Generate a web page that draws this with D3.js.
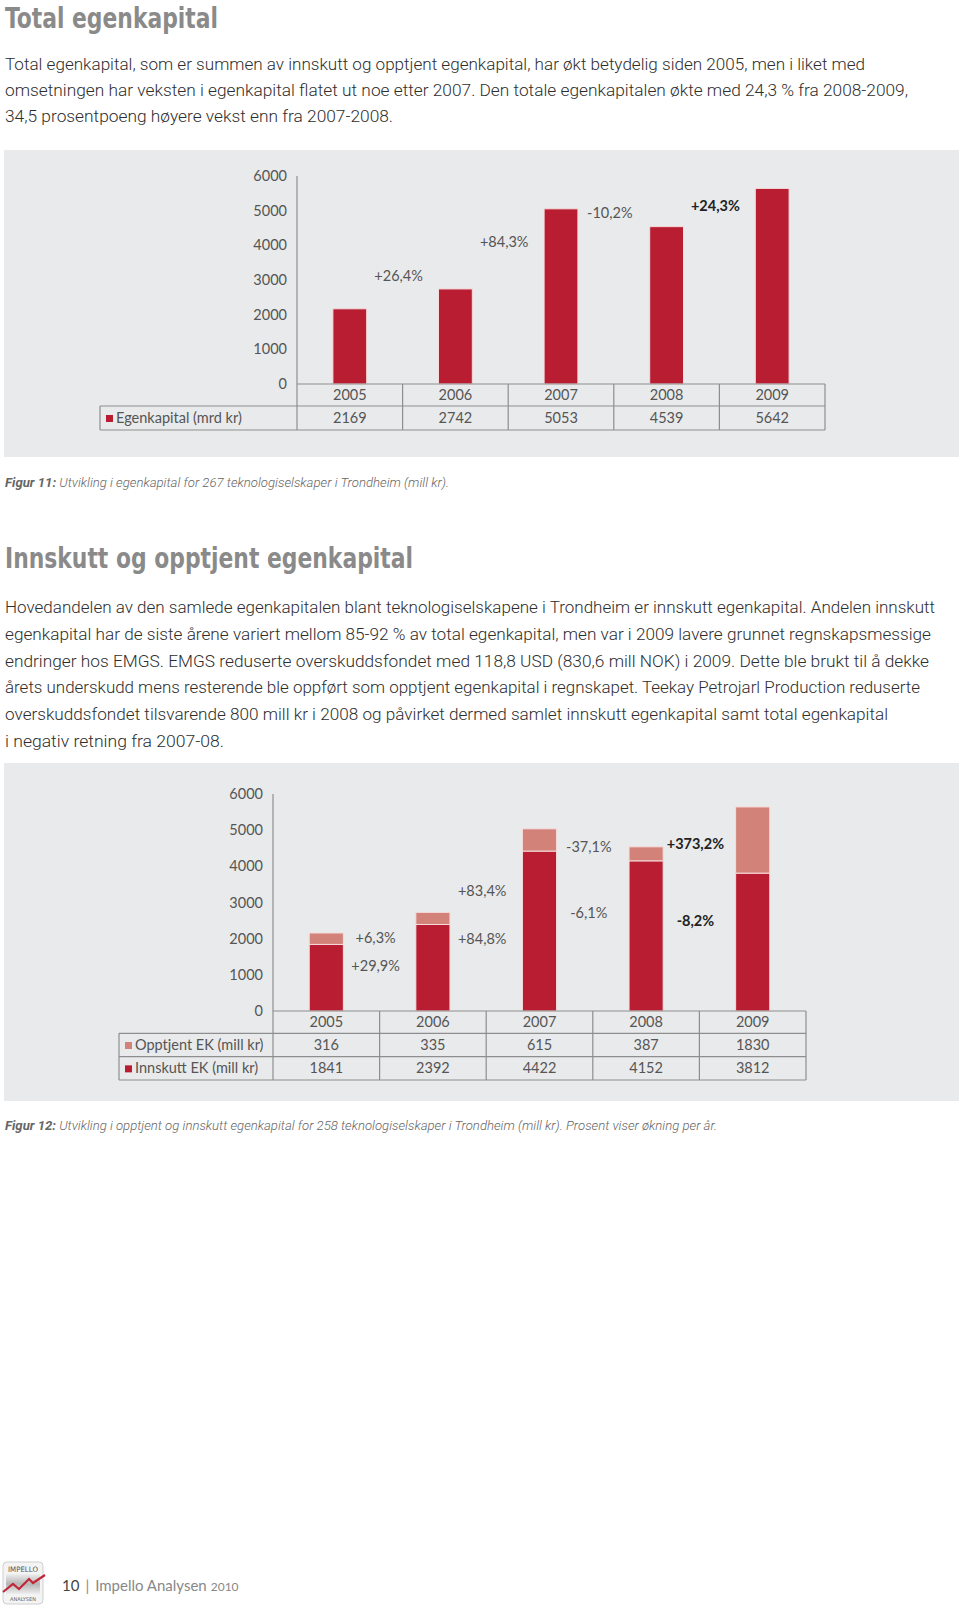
<!DOCTYPE html>
<html><head><meta charset="utf-8">
<script src="https://cdn.jsdelivr.net/npm/d3@7"></script>
<style>body{margin:0;background:#fff;} svg{display:block}</style>
</head><body><svg id="c" width="960" height="1610"></svg>
<script>
// ---------- DATA ----------
const years = ["2005","2006","2007","2008","2009"];
const yTicks = [0,1000,2000,3000,4000,5000,6000];

// Figure 11
const egenkapital = [2169,2742,5053,4539,5642];
const growthTotal = ["+26,4%","+84,3%","-10,2%","+24,3%"];
const growthTotalLevel = [3090,4070,4900,5110];   // label height in value units
const growthTotalBold = [false,false,false,true];

// Figure 12
const opptjent = [316,335,615,387,1830];
const innskutt = [1841,2392,4422,4152,3812];
const growthOpptjent = ["+6,3%","+83,4%","-37,1%","+373,2%"];
const growthOpptjentLevel = [1990,3290,4510,4590];
const growthOpptjentBold = [false,false,false,true];
const growthInnskutt = ["+29,9%","+84,8%","-6,1%","-8,2%"];
const growthInnskuttLevel = [1220,1960,2680,2460];
const growthInnskuttBold = [false,false,false,true];

// Texts
const title1 = "Total egenkapital";
const para1 = [
 "Total egenkapital, som er summen av innskutt og opptjent egenkapital, har økt betydelig siden 2005, men i liket med",
 "omsetningen har veksten i egenkapital flatet ut noe etter 2007. Den totale egenkapitalen økte med 24,3 % fra 2008-2009,",
 "34,5 prosentpoeng høyere vekst enn fra 2007-2008."
];
const caption1 = ["Figur 11:", " Utvikling i egenkapital for 267 teknologiselskaper i Trondheim (mill kr)."];
const title2 = "Innskutt og opptjent egenkapital";
const para2 = [
 "Hovedandelen av den samlede egenkapitalen blant teknologiselskapene i Trondheim er innskutt egenkapital. Andelen innskutt",
 "egenkapital har de siste årene variert mellom 85-92 % av total egenkapital, men var i 2009 lavere grunnet regnskapsmessige",
 "endringer hos EMGS. EMGS reduserte overskuddsfondet med 118,8 USD (830,6 mill NOK) i 2009. Dette ble brukt til å dekke",
 "årets underskudd mens resterende ble oppført som opptjent egenkapital i regnskapet. Teekay Petrojarl Production reduserte",
 "overskuddsfondet tilsvarende 800 mill kr i 2008 og påvirket dermed samlet innskutt egenkapital samt total egenkapital",
 "i negativ retning fra 2007-08."
];
const caption2 = ["Figur 12:", " Utvikling i opptjent og innskutt egenkapital for 258 teknologiselskaper i Trondheim (mill kr). Prosent viser økning per år."];
const footer = ["10", "|", "Impello Analysen", "2010"];

// ---------- STYLE ----------
const DARK = "#b81d32", LIGHT = "#d3827a", PANEL = "#e9eaeb", GRID = "#8e8e8e";
const LABEL_FONT = "Lato, 'Open Sans', sans-serif";
const BODY_FONT = "Roboto, 'Open Sans', sans-serif";
const TITLE_FONT = "'Liberation Sans Narrow', 'DejaVu Sans Condensed', Roboto, sans-serif";

const svg = d3.select("#c");
svg.append("rect").attr("width",960).attr("height",1610).attr("fill","#fff");

function title(txt, y, w){
  svg.append("text").attr("x",5).attr("y",y).text(txt)
    .attr("font-family",TITLE_FONT).attr("font-weight","bold").attr("font-size",29)
    .attr("fill","#8a8a8a").attr("textLength",w).attr("lengthAdjust","spacingAndGlyphs");
}
function para(lines, y0, dy, widths){
  lines.forEach((l,i)=>{
    svg.append("text").attr("x",5).attr("y",y0+i*dy).text(l)
      .attr("font-family",BODY_FONT).attr("font-weight",300).attr("font-size",16.5)
      .attr("fill","#2e2e2e").attr("textLength",widths[i]-5).attr("lengthAdjust","spacingAndGlyphs");
  });
}
function caption(parts, y, w){
  const t = svg.append("text").attr("x",5).attr("y",y)
    .attr("font-family",BODY_FONT).attr("font-style","italic").attr("font-size",12.5)
    .attr("fill","#666").attr("textLength",w).attr("lengthAdjust","spacingAndGlyphs");
  t.append("tspan").attr("font-weight","bold").text(parts[0]);
  t.append("tspan").attr("font-weight",300).text(parts[1]);
}

title(title1, 28, 213);
para(para1, 70, 26, [865, 908, 393]);

// ---------- CHART helper ----------
function chart(cfg){
  const g = svg.append("g");
  g.append("rect").attr("x",4).attr("y",cfg.panel[0]).attr("width",955).attr("height",cfg.panel[1]-cfg.panel[0]).attr("fill",PANEL);
  const x = d3.scaleBand().domain(years).range([cfg.x0,cfg.x1]).padding(0);
  const y = d3.scaleLinear().domain([0,6000]).range([cfg.zero,cfg.top]);
  const bw = x.bandwidth()*0.32;

  // y axis labels
  const ax = g.append("g").attr("transform",`translate(${cfg.x0},0)`)
    .call(d3.axisLeft(y).tickValues(yTicks).tickSize(0).tickPadding(10).tickFormat(d3.format("d")));
  ax.select(".domain").remove();
  ax.selectAll("text").attr("font-family",LABEL_FONT).attr("font-size",14.5).attr("fill","#555");

  // bars
  cfg.stacks.forEach(s=>{
    g.selectAll(null).data(years).join("rect")
      .attr("x",d=>x(d)+(x.bandwidth()-bw)/2).attr("width",bw)
      .attr("y",(d,i)=>y(s.base[i]+s.values[i])).attr("height",(d,i)=>y(s.base[i])-y(s.base[i]+s.values[i]))
      .attr("fill",s.color).attr("stroke","#f6dcdc").attr("stroke-width",1);
  });

  // growth labels
  cfg.labels.forEach(L=>{
    g.selectAll(null).data(L.text).join("text")
      .attr("x",(d,i)=>x(years[i+1])-4).attr("y",(d,i)=>y(L.level[i]))
      .attr("text-anchor","middle").attr("dominant-baseline","middle")
      .attr("font-family",LABEL_FONT).attr("font-size",14.5)
      .attr("font-weight",(d,i)=>L.bold[i]?"bold":"normal")
      .attr("fill",(d,i)=>L.bold[i]?"#222":"#555").text(d=>d);
  });

  // table
  const rowsY = cfg.rowsY;
  const line=(x1,y1,x2,y2)=>g.append("line").attr("x1",x1).attr("y1",y1).attr("x2",x2).attr("y2",y2)
    .attr("stroke",GRID).attr("stroke-width",1.2);
  line(cfg.x0, cfg.top, cfg.x0, rowsY[rowsY.length-1]);
  line(cfg.x0, rowsY[0], cfg.x1, rowsY[0]);
  for(let r=1;r<rowsY.length;r++) line(cfg.labelX, rowsY[r], cfg.x1, rowsY[r]);
  line(cfg.labelX, rowsY[1], cfg.labelX, rowsY[rowsY.length-1]);
  years.forEach(yr=>line(x(yr)+x.bandwidth(), rowsY[0], x(yr)+x.bandwidth(), rowsY[rowsY.length-1]));

  const txt = (xx,yy,t,anchor)=>g.append("text").attr("x",xx).attr("y",yy).text(t)
    .attr("text-anchor",anchor||"middle").attr("dominant-baseline","middle")
    .attr("font-family",LABEL_FONT).attr("font-size",14.5).attr("fill","#555");
  years.forEach(yr=>txt(x(yr)+x.bandwidth()/2,(rowsY[0]+rowsY[1])/2+1,yr));
  cfg.rows.forEach((row,r)=>{
    const cy=(rowsY[r+1]+rowsY[r+2])/2+1;
    g.append("rect").attr("x",cfg.labelX+6).attr("y",cy-4).attr("width",7).attr("height",7).attr("fill",row.color);
    txt(cfg.labelX+16,cy,row.name,"start");
    years.forEach((yr,i)=>txt(x(yr)+x.bandwidth()/2,cy,d3.format("d")(row.values[i])));
  });
}

chart({
  panel:[150,457], x0:297, x1:825, zero:384, top:176, labelX:100,
  rowsY:[384,406,430],
  stacks:[{values:egenkapital, base:egenkapital.map(()=>0), color:DARK}],
  labels:[{text:growthTotal, level:growthTotalLevel, bold:growthTotalBold}],
  rows:[{name:"Egenkapital (mrd kr)", values:egenkapital, color:DARK}]
});

caption(caption1, 487, 444);
title(title2, 568, 408);
para(para2, 613, 26.8, [935, 931, 929, 920, 888, 224]);

chart({
  panel:[763,1101], x0:273, x1:806, zero:1011, top:794, labelX:119,
  rowsY:[1011,1033.3,1056.7,1080],
  stacks:[{values:innskutt, base:innskutt.map(()=>0), color:DARK},
          {values:opptjent, base:innskutt, color:LIGHT}],
  labels:[{text:growthOpptjent, level:growthOpptjentLevel, bold:growthOpptjentBold},
          {text:growthInnskutt, level:growthInnskuttLevel, bold:growthInnskuttBold}],
  rows:[{name:"Opptjent EK (mill kr)", values:opptjent, color:LIGHT},
        {name:"Innskutt EK (mill kr)", values:innskutt, color:DARK}]
});
caption(caption2, 1130, 712);

// ---------- FOOTER ----------
const lg = svg.append("g").attr("transform","translate(3,1562)");
const grad = svg.append("defs").append("linearGradient").attr("id","lgG").attr("x1",0).attr("y1",0).attr("x2",0).attr("y2",1);
grad.append("stop").attr("offset","0").attr("stop-color","#eeeeee");
grad.append("stop").attr("offset","0.5").attr("stop-color","#b5b5b5");
grad.append("stop").attr("offset","1").attr("stop-color","#eeeeee");
lg.append("rect").attr("width",40).attr("height",42).attr("rx",4).attr("fill","#f4f4f4").attr("stroke","#cfcfcf");
lg.append("rect").attr("x",3).attr("y",12).attr("width",34).attr("height",20).attr("fill","url(#lgG)");
lg.append("text").attr("x",20).attr("y",10).attr("text-anchor","middle").attr("font-size",7.5).attr("font-family","'DejaVu Sans Condensed', sans-serif").attr("fill","#555").attr("textLength",30).attr("lengthAdjust","spacingAndGlyphs").text("IMPELLO");
lg.append("text").attr("x",20).attr("y",39).attr("text-anchor","middle").attr("font-size",5).attr("font-family","'DejaVu Sans Condensed', sans-serif").attr("fill","#666").attr("textLength",26).attr("lengthAdjust","spacingAndGlyphs").text("ANALYSEN");
lg.append("path").attr("d","M0,30 L10,22 L16,27 L26,17 L30,21 L42,13").attr("fill","none").attr("stroke","#c0283a").attr("stroke-width",2.2);

const ft = svg.append("text").attr("x",62).attr("y",1591).attr("font-family",LABEL_FONT).attr("font-size",15).attr("fill","#888");
ft.append("tspan").attr("fill","#444").text(footer[0]);
ft.append("tspan").attr("dx",6).text(footer[1]);
ft.append("tspan").attr("dx",6).text(footer[2]);
ft.append("tspan").attr("dx",4).attr("font-size",12).text(footer[3]);
</script></body></html>
